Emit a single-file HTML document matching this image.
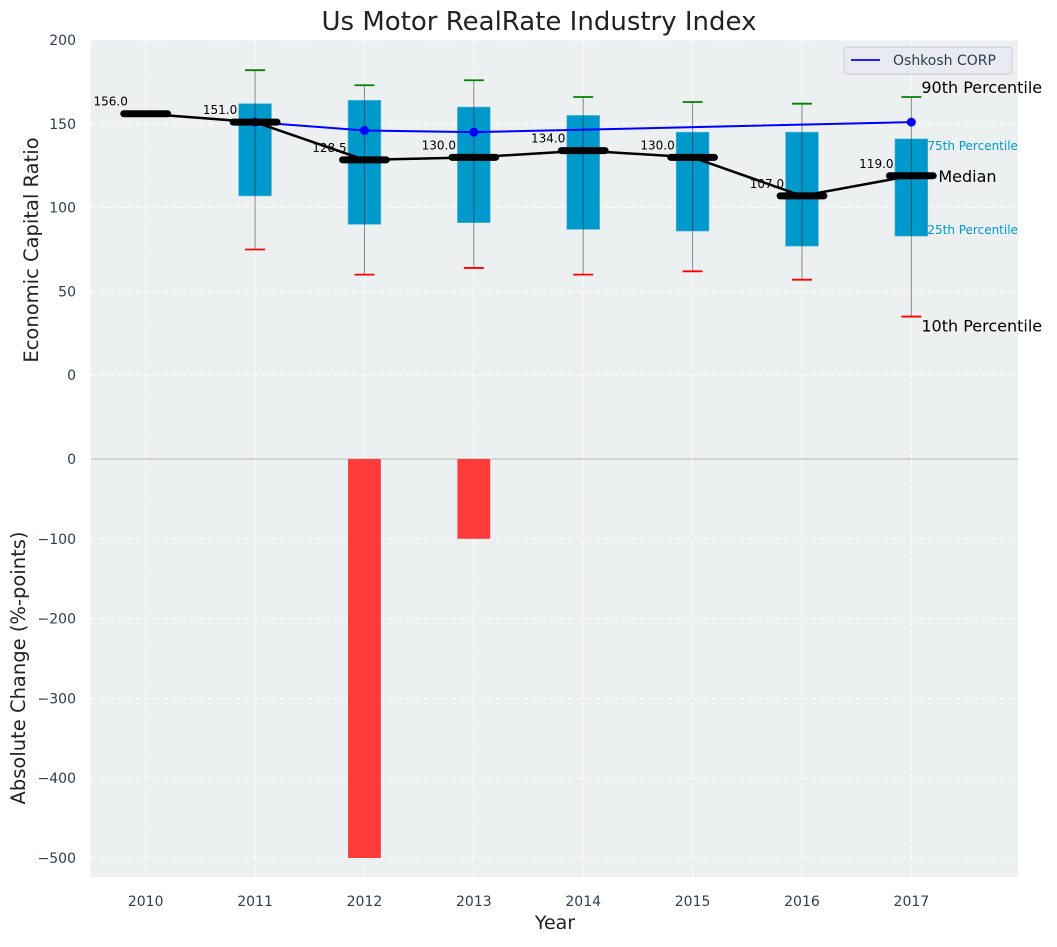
<!DOCTYPE html>
<html><head><meta charset="utf-8"><style>
body{margin:0;background:#fff;font-family:"Liberation Sans","DejaVu Sans",sans-serif;}
svg text{font-family:"DejaVu Sans","Liberation Sans",sans-serif;}
</style></head><body>
<svg id="chart" width="1057" height="942" xmlns="http://www.w3.org/2000/svg"></svg>
<script>
const years=[2010,2011,2012,2013,2014,2015,2016,2017];
const medians=[156,151,128.5,130,134,130,107,119];
const boxYears=[2011,2012,2013,2014,2015,2016,2017];
const q25=[107,90,91,87,86,77,83];
const q75=[162,164,160,155,145,145,141];
const p10=[75,60,64,60,62,57,35];
const p90=[182,173,176,166,163,162,166];
const oshYears=[2011,2012,2013,2017];
const oshVals=[151,146,145,151];
const changeYears=[2012,2013];
const changeVals=[-500,-100];
const topTicks=[0,50,100,150,200];
const botTicks=[0,-100,-200,-300,-400,-500];

const svg=document.getElementById('chart');
const NS='http://www.w3.org/2000/svg';
function mk(tag,attrs,parent){const e=document.createElementNS(NS,tag);for(const k in attrs)e.setAttribute(k,attrs[k]);(parent||svg).appendChild(e);return e;}
const L=91,R=1018,T1=40,B1=459,T2=459,B2=877;
const x=v=>L+(v-2009.5)*(R-L)/(2017.975-2009.5);
const y1=v=>T1+(200-v)*(B1-T1)/250;
const y2=v=>459+(0-v)*(858-459)/500;
const dx=x(2011)-x(2010);

let e=mk('rect',{x:L,y:T1,width:R-L,height:B1-T1,fill:'#ecf0f1'});

e=mk('rect',{x:L,y:T2,width:R-L,height:B2-T2,fill:'#ecf0f1'});


years.forEach(yr=>{
 mk('line',{x1:x(yr),x2:x(yr),y1:T1,y2:B1,stroke:'#fff','stroke-dasharray':'5,4','stroke-width':1});
 mk('line',{x1:x(yr),x2:x(yr),y1:T2,y2:B2,stroke:'#fff','stroke-dasharray':'5,4','stroke-width':1});
 e=mk('text',{x:x(yr),y:906,'text-anchor':'middle','font-size':14,fill:'#2c3e50'});e.textContent=yr;
 
});
topTicks.forEach(t=>{
 mk('line',{x1:L,x2:R,y1:y1(t),y2:y1(t),stroke:'#fff','stroke-dasharray':'5,4'});
 e=mk('text',{x:76,y:y1(t)+5,'text-anchor':'end','font-size':14,fill:'#2c3e50'});e.textContent=t;
 
});
botTicks.forEach(t=>{
 mk('line',{x1:L,x2:R,y1:y2(t),y2:y2(t),stroke:t==0?'#bbb':'#fff','stroke-dasharray':t==0?'':'5,4'});
 e=mk('text',{x:76,y:y2(t)+5,'text-anchor':'end','font-size':14,fill:'#2c3e50'});e.textContent=t<0?'\u2212'+(-t):t;
 
});

boxYears.forEach((yr,i)=>{
 const cx=x(yr),w=0.3*dx;
 e=mk('line',{x1:cx,x2:cx,y1:y1(p90[i]),y2:y1(p10[i]),stroke:'#888','stroke-width':1});
 
 e=mk('rect',{x:cx-w/2,y:y1(q75[i]),width:w,height:y1(q25[i])-y1(q75[i]),fill:'#0099cc',stroke:'#5bb8d8','stroke-width':0.6});
 
 mk('line',{x1:cx,x2:cx,y1:y1(q75[i]),y2:y1(q25[i]),stroke:'#1f5a6e','stroke-width':1});
 e=mk('line',{x1:cx-10,x2:cx+10,y1:y1(p90[i]),y2:y1(p90[i]),stroke:'green','stroke-width':1.8});
 
 e=mk('line',{x1:cx-10,x2:cx+10,y1:y1(p10[i]),y2:y1(p10[i]),stroke:'red','stroke-width':1.8});
 
});

e=mk('polyline',{points:oshYears.map((yr,i)=>x(yr)+','+y1(oshVals[i])).join(' '),fill:'none',stroke:'blue','stroke-width':2});

oshYears.forEach((yr,i)=>{e=mk('circle',{cx:x(yr),cy:y1(oshVals[i]),r:4.5,fill:'blue'});
 });

e=mk('polyline',{points:years.map((yr,i)=>x(yr)+','+y1(medians[i])).join(' '),fill:'none',stroke:'#000','stroke-width':2.5});

years.forEach((yr,i)=>{
 e=mk('line',{x1:x(yr)-0.2*dx,x2:x(yr)+0.2*dx,y1:y1(medians[i]),y2:y1(medians[i]),stroke:'#000','stroke-width':7,'stroke-linecap':'round'});
 
 e=mk('text',{x:x(yr)-0.32*dx,y:y1(medians[i])-8,'text-anchor':'middle','font-size':12,fill:'#000'});e.textContent=medians[i].toFixed(1);
 
});

changeYears.forEach((yr,i)=>{const w=0.3*dx,v=changeVals[i];
 e=mk('rect',{x:x(yr)-w/2,y:y2(Math.max(0,v)),width:w,height:Math.abs(y2(v)-y2(0)),fill:'#ff3b3b'});
 
});

const li=boxYears.length-1,ax=x(2017),lastMed=medians[years.length-1];
[['90th Percentile',p90[li],16,'#000',ax+10,-10],['75th Percentile',q75[li],12,'#0099cc',ax+16,7],['Median',lastMed,16,'#000',ax+27,0],['25th Percentile',q25[li],12,'#0099cc',ax+16,-6],['10th Percentile',p10[li],16,'#000',ax+10,9]].forEach(a=>{
 e=mk('text',{x:a[4],y:y1(a[1])+a[5]+(a[2]==16?6:4),'font-size':a[2],fill:a[3]});e.textContent=a[0];
 
});

e=mk('rect',{x:844,y:47,width:168,height:27,rx:3,fill:'#eaeaf2',stroke:'#ccc'});

mk('line',{x1:851,x2:880,y1:60,y2:60,stroke:'blue','stroke-width':1.8});
e=mk('text',{x:893,y:65,'font-size':14,fill:'#2c3e50'});e.textContent='Oshkosh CORP';


e=mk('text',{x:539,y:30,'text-anchor':'middle','font-size':26,fill:'#222'});e.textContent='Us Motor RealRate Industry Index';

e=mk('text',{x:555,y:929,'text-anchor':'middle','font-size':19,fill:'#222'});e.textContent='Year';

e=mk('text',{x:38,y:250,'text-anchor':'middle','font-size':19.5,fill:'#222',transform:'rotate(-90 38 250)'});e.textContent='Economic Capital Ratio';

e=mk('text',{x:25,y:668,'text-anchor':'middle','font-size':19.5,fill:'#222',transform:'rotate(-90 25 668)'});e.textContent='Absolute Change (%-points)';

</script>
</body></html>
